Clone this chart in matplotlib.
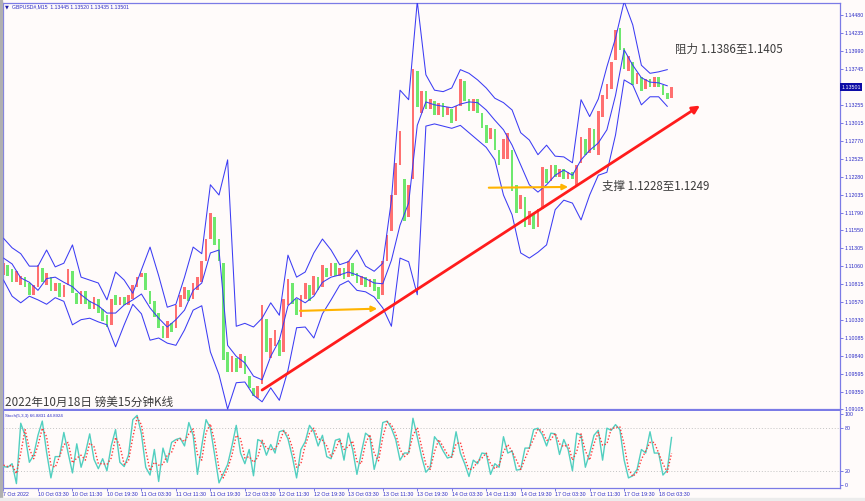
import numpy as np
import matplotlib.pyplot as plt
from matplotlib.patches import Rectangle

plt.rcParams['font.family'] = ['Noto Sans CJK SC', 'DejaVu Sans']

# GBPUSD M15, sampled every 4th bar (one slice per hour)
opens = [1.1094, 1.1108, 1.1102, 1.1085, 1.1080, 1.1091, 1.1083, 1.1066, 1.1078, 1.1104,
         1.1080, 1.1091, 1.1072, 1.1083, 1.1064, 1.1080, 1.1099, 1.1069, 1.1055, 1.1072,
         1.1058, 1.1047, 1.1061, 1.1047, 1.1039, 1.1026, 1.1066, 1.1053, 1.1064, 1.1053,
         1.1061, 1.1077, 1.1091, 1.1096, 1.1072, 1.1058, 1.1042, 1.1025, 1.1008, 1.1028,
         1.1022, 1.1050, 1.1061, 1.1073, 1.1061, 1.1073, 1.1085, 1.1113, 1.1143, 1.1173,
         1.1143, 1.1110, 1.0989, 1.0962, 1.0981, 1.0967, 1.0984, 1.0956, 1.0940, 1.0926,
         1.0945, 1.1034, 1.0981, 1.0997, 1.1005, 1.0989, 1.1053, 1.1083, 1.1061, 1.1036,
         1.1061, 1.1080, 1.1066, 1.1091, 1.1077, 1.1104, 1.1093, 1.1110, 1.1093, 1.1104,
         1.1091, 1.1110, 1.1096, 1.1080, 1.1091, 1.1077, 1.1088, 1.1077, 1.1066, 1.1113,
         1.1154, 1.1203, 1.1244, 1.1225, 1.1173, 1.1225, 1.1372, 1.1315, 1.1345, 1.1320,
         1.1331, 1.1312, 1.1328, 1.1312, 1.1320, 1.1304, 1.1325, 1.1358, 1.1334, 1.1317,
         1.1334, 1.1315, 1.1298, 1.1279, 1.1293, 1.1265, 1.1252, 1.1252, 1.1265, 1.1216,
         1.1184, 1.1200, 1.1162, 1.1178, 1.1159, 1.1184, 1.1238, 1.1222, 1.1244, 1.1227,
         1.1238, 1.1225, 1.1235, 1.1216, 1.1246, 1.1279, 1.1260, 1.1293, 1.1257, 1.1309,
         1.1334, 1.1347, 1.1387, 1.1431, 1.1404, 1.1372, 1.1385, 1.1355, 1.1364, 1.1347,
         1.1361, 1.1350, 1.1364, 1.1353, 1.1342, 1.1336]
closes = [1.1110, 1.1093, 1.1085, 1.1099, 1.1093, 1.1077, 1.1066, 1.1080, 1.1107, 1.1085,
          1.1096, 1.1072, 1.1083, 1.1064, 1.1080, 1.1102, 1.1069, 1.1055, 1.1072, 1.1055,
          1.1047, 1.1064, 1.1042, 1.1031, 1.1023, 1.1061, 1.1053, 1.1064, 1.1053, 1.1066,
          1.1080, 1.1091, 1.1096, 1.1073, 1.1055, 1.1036, 1.1022, 1.1008, 1.1031, 1.1016,
          1.1053, 1.1066, 1.1077, 1.1058, 1.1083, 1.1091, 1.1113, 1.1143, 1.1178, 1.1135,
          1.1113, 1.0978, 1.0962, 1.0984, 1.0962, 1.0986, 1.0959, 1.0940, 1.0929, 1.0942,
          1.1053, 1.0989, 1.1008, 1.1019, 1.0984, 1.1061, 1.1088, 1.1055, 1.1039, 1.1066,
          1.1083, 1.1058, 1.1093, 1.1073, 1.1107, 1.1091, 1.1110, 1.1093, 1.1104, 1.1088,
          1.1113, 1.1093, 1.1083, 1.1093, 1.1077, 1.1088, 1.1072, 1.1061, 1.1113, 1.1148,
          1.1203, 1.1246, 1.1290, 1.1167, 1.1216, 1.1375, 1.1323, 1.1345, 1.1320, 1.1334,
          1.1312, 1.1328, 1.1309, 1.1323, 1.1301, 1.1325, 1.1361, 1.1331, 1.1317, 1.1334,
          1.1315, 1.1295, 1.1274, 1.1295, 1.1265, 1.1244, 1.1279, 1.1287, 1.1208, 1.1178,
          1.1203, 1.1159, 1.1181, 1.1156, 1.1184, 1.1241, 1.1219, 1.1244, 1.1227, 1.1238,
          1.1225, 1.1235, 1.1225, 1.1244, 1.1282, 1.1257, 1.1295, 1.1265, 1.1317, 1.1339,
          1.1355, 1.1385, 1.1428, 1.1401, 1.1375, 1.1393, 1.1353, 1.1369, 1.1345, 1.1361,
          1.1350, 1.1364, 1.1350, 1.1339, 1.1334, 1.13501]

# bollinger bands, every 2nd slice
upper_band = [1.1144, 1.1131, 1.1123, 1.1106, 1.1106, 1.1128, 1.1105, 1.1110, 1.1135, 1.1091,
              1.1087, 1.1083, 1.1060, 1.1098, 1.1087, 1.1069, 1.1101, 1.1132, 1.1093, 1.1050,
              1.1054, 1.1091, 1.1132, 1.1123, 1.1217, 1.1203, 1.1251, 1.1024, 1.1028, 1.1023,
              1.1035, 1.1056, 1.1039, 1.1121, 1.1091, 1.1098, 1.1124, 1.1143, 1.1128, 1.1108,
              1.1112, 1.1128, 1.1106, 1.1099, 1.1110, 1.1196, 1.1346, 1.1333, 1.1467, 1.1367,
              1.1346, 1.1344, 1.1349, 1.1374, 1.1369, 1.1360, 1.1349, 1.1335, 1.1329, 1.1319,
              1.1288, 1.1278, 1.1258, 1.1271, 1.1256, 1.1255, 1.1247, 1.1333, 1.1310, 1.1334,
              1.1378, 1.1417, 1.1467, 1.1435, 1.1380, 1.1369, 1.1371, 1.1374]
mid_band = [1.1117, 1.1109, 1.1090, 1.1084, 1.1073, 1.1089, 1.1091, 1.1084, 1.1078, 1.1067,
            1.1058, 1.1052, 1.1042, 1.1042, 1.1053, 1.1060, 1.1068, 1.1049, 1.1035, 1.1023,
            1.1033, 1.1046, 1.1073, 1.1083, 1.1124, 1.1128, 1.0998, 1.0983, 1.0974, 1.0956,
            1.0951, 1.0983, 1.1005, 1.1052, 1.1063, 1.1056, 1.1065, 1.1084, 1.1091, 1.1094,
            1.1098, 1.1094, 1.1089, 1.1083, 1.1082, 1.1114, 1.1162, 1.1192, 1.1298, 1.1330,
            1.1326, 1.1324, 1.1322, 1.1327, 1.1330, 1.1329, 1.1319, 1.1305, 1.1292, 1.1271,
            1.1244, 1.1217, 1.1207, 1.1217, 1.1230, 1.1237, 1.1230, 1.1251, 1.1264, 1.1274,
            1.1292, 1.1339, 1.1401, 1.1380, 1.1363, 1.1357, 1.1356, 1.1352]
lower_band = [1.1087, 1.1065, 1.1056, 1.1065, 1.1060, 1.1054, 1.1063, 1.1058, 1.1026, 1.1033,
              1.1035, 1.1030, 1.1026, 1.0996, 1.1026, 1.1054, 1.1041, 1.1005, 1.1008, 1.1001,
              1.0998, 1.1019, 1.1046, 1.1052, 1.0989, 1.0958, 1.0911, 1.0947, 1.0948, 1.0930,
              1.0921, 1.0940, 1.0923, 1.0964, 1.1022, 1.1023, 1.1008, 1.1041, 1.1060, 1.1080,
              1.1086, 1.1073, 1.1071, 1.1064, 1.1049, 1.1024, 1.1117, 1.1112, 1.1067, 1.1297,
              1.1300, 1.1297, 1.1294, 1.1298, 1.1288, 1.1278, 1.1268, 1.1251, 1.1203, 1.1176,
              1.1124, 1.1117, 1.1125, 1.1135, 1.1183, 1.1196, 1.1192, 1.1169, 1.1203, 1.1230,
              1.1234, 1.1285, 1.1360, 1.1353, 1.1326, 1.1337, 1.1337, 1.1324]

stoch_k = [26, 25, 30, 2, 87, 70, 32, 42, 70, 90, 46, 10, 40, 40, 74, 45, 17, 58, 25, 45,
           72, 36, 23, 37, 20, 55, 78, 32, 26, 42, 92, 98, 72, 25, 14, 50, 5, 52, 32, 60,
           64, 66, 55, 88, 70, 15, 55, 92, 80, 42, 3, 16, 29, 55, 84, 45, 30, 50, 13, 64,
           61, 42, 57, 45, 75, 77, 65, 40, 10, 50, 61, 84, 75, 55, 70, 40, 37, 63, 65, 35,
           73, 50, 15, 45, 73, 68, 22, 45, 88, 90, 80, 64, 35, 45, 45, 94, 68, 40, 18, 25,
           68, 60, 48, 38, 40, 75, 45, 30, 12, 35, 30, 45, 44, 15, 30, 25, 68, 45, 48, 21,
           22, 52, 52, 78, 80, 71, 55, 73, 72, 43, 64, 50, 20, 73, 70, 25, 45, 70, 77, 35,
           80, 77, 85, 78, 35, 10, 13, 22, 50, 45, 75, 45, 45, 14, 21, 66.8831]
stoch_d = [28, 26, 28, 16, 45, 78, 51, 37, 56, 80, 68, 28, 25, 40, 57, 60, 31, 38, 42, 35,
           59, 54, 30, 30, 29, 38, 67, 55, 29, 34, 67, 95, 85, 49, 20, 32, 28, 29, 42, 46,
           62, 65, 61, 72, 79, 43, 35, 74, 86, 61, 23, 10, 23, 42, 70, 65, 38, 40, 32, 39,
           63, 52, 50, 51, 60, 76, 71, 53, 25, 30, 56, 73, 80, 65, 63, 55, 39, 50, 64, 50,
           54, 62, 33, 30, 59, 71, 45, 34, 67, 89, 85, 72, 50, 40, 45, 70, 81, 54, 29, 22,
           47, 64, 54, 43, 39, 58, 60, 38, 21, 24, 33, 38, 45, 30, 23, 28, 47, 57, 47, 35,
           22, 37, 52, 65, 79, 76, 63, 64, 73, 58, 54, 57, 35, 47, 72, 48, 35, 58, 74, 56,
           58, 79, 81, 82, 57, 23, 12, 18, 36, 48, 60, 60, 45, 30, 18, 44.8924]

price_ticks = [1.14480, 1.14235, 1.13990, 1.13745, 1.13255, 1.13015, 1.12770, 1.12525,
               1.12280, 1.12035, 1.11790, 1.11550, 1.11305, 1.11060, 1.10815, 1.10570,
               1.10330, 1.10085, 1.09840, 1.09595, 1.09350, 1.09105]
time_labels = ['7 Oct 2022', '10 Oct 03:30', '10 Oct 11:30', '10 Oct 19:30', '11 Oct 03:30',
               '11 Oct 11:30', '11 Oct 19:30', '12 Oct 03:30', '12 Oct 11:30', '12 Oct 19:30',
               '13 Oct 03:30', '13 Oct 11:30', '13 Oct 19:30', '14 Oct 03:30', '14 Oct 11:30',
               '14 Oct 19:30', '17 Oct 03:30', '17 Oct 11:30', '17 Oct 19:30', '18 Oct 03:30']
time_ticks = list(range(0, 8 * len(time_labels), 8))

# analyst drawings (slice index, price)
trend_from = (60.0, 1.0937)
trend_to = (161.6, 1.1325)
support_arrows = [((68.8, 1.1045), (86.7, 1.1048)),
                  ((112.6, 1.1213), (131.0, 1.1214))]
notes = [(155.8, 1.1402, '阻力 1.1386至1.1405'),
         (138.9, 1.1215, '支撑 1.1228至1.1249')]

BG = '#fffbfa'
FRAME = '#7b7be6'
AXTXT = '#2b2bc6'
SMALL = 3.8
W, H = 865, 501


def box(l, t, r, b):
    return [l / W, 1 - b / H, (r - l) / W, (b - t) / H]


fig = plt.figure(figsize=(W / 100, H / 100), dpi=100)
fig.patch.set_facecolor(BG)
fig.patches.append(Rectangle((0, 0), 2 / W, 1, transform=fig.transFigure, color='#b0b0b0', zorder=0))
fig.patches.append(Rectangle((0, 0), 1, 3 / H, transform=fig.transFigure, color='#ececec', zorder=0))

ax = fig.add_axes(box(3, 3, 840, 410))
ax_st = fig.add_axes(box(3, 411, 840, 488), sharex=ax)
for a in (ax, ax_st):
    a.set_facecolor(BG)
    for s in a.spines.values():
        s.set_color(FRAME)
        s.set_linewidth(0.9)
ax.spines['bottom'].set_linewidth(1.6)
ax_st.spines['top'].set_visible(False)

idx = np.arange(len(opens))
o = np.array(opens)
c = np.array(closes)
cols = np.where(c >= o, '#ff7070', '#6ee86e')
ax.bar(idx, c - o, bottom=o, width=0.62, color=cols, linewidth=0, zorder=2)

bidx = np.arange(0, len(opens), 2)[:len(upper_band)]
for band in (upper_band, mid_band, lower_band):
    ax.plot(bidx, band, color='#3c3cf4', lw=0.75, zorder=3)

ax.annotate('', xy=trend_to, xytext=trend_from,
            arrowprops=dict(arrowstyle='-|>', color='#ff1c1c', lw=2.0,
                            mutation_scale=11, shrinkA=0, shrinkB=0), zorder=5)
for start, end in support_arrows:
    ax.annotate('', xy=end, xytext=start,
                arrowprops=dict(arrowstyle='-|>', color='#ffb300', lw=1.5,
                                mutation_scale=8, shrinkA=0, shrinkB=0), zorder=5)
for x, y, t in notes:
    ax.text(x, y, t, fontsize=8.3, color='#3c3c3c', ha='left', va='center', zorder=6)

ax.set_xlim(-0.116, 194.08)
ax.set_ylim(1.09098, 1.14649)
ax.tick_params(axis='x', bottom=False, labelbottom=False)
ax.yaxis.tick_right()
ax.set_yticks(price_ticks)
ax.set_yticklabels([f'{p:.5f}' for p in price_ticks], fontfamily='Liberation Sans')
ax.tick_params(axis='y', direction='out', length=2.2, width=0.7, color=FRAME,
               pad=1.0, labelsize=SMALL, labelcolor=AXTXT)
ax.annotate(f'{closes[-1]:.5f}', xy=(1, closes[-1]), xycoords=('axes fraction', 'data'),
            xytext=(1.0, 0), textcoords='offset points', ha='left', va='center',
            fontsize=SMALL, color='white', fontfamily='Liberation Sans', annotation_clip=False,
            bbox=dict(boxstyle='square,pad=0.25', fc='#0c0ca6', ec='none'))

ax_st.plot(idx, stoch_k, color='#52cfc0', lw=1.0, zorder=3)
ax_st.plot(idx, stoch_d, color='#ff3b3b', lw=1.0, ls=(0, (1, 1.4)), zorder=4)
for lvl in (20, 80):
    ax_st.axhline(lvl, color='#c4c4c4', lw=0.7, ls=(0, (1, 2)), zorder=1)
ax_st.set_ylim(-4.2, 104.2)
ax_st.yaxis.tick_right()
ax_st.set_yticks([0, 20, 80, 100])
ax_st.set_yticklabels(['0', '20', '80', '100'], fontfamily='Liberation Sans')
ax_st.tick_params(axis='y', direction='out', length=2.2, width=0.7, color=FRAME,
                  pad=1.0, labelsize=SMALL, labelcolor=AXTXT)
ax_st.set_xticks(time_ticks)
ax_st.set_xticklabels(time_labels, fontfamily='Liberation Sans', ha='left')
ax_st.tick_params(axis='x', direction='out', length=2.2, width=0.7, color=FRAME,
                  pad=1.0, labelsize=SMALL, labelcolor=AXTXT)

fig.text(5 / W, 1 - 6.8 / H, '▼', fontsize=3.6, color='#1c1ca8', va='center',
         fontfamily=['DejaVu Sans'])
fig.text(12 / W, 1 - 6.8 / H, 'GBPUSD#,M15  1.13445 1.13520 1.13435 1.13501',
         fontsize=3.7, color=AXTXT, va='center', fontfamily=['Liberation Sans', 'DejaVu Sans'])
fig.text(5 / W, 1 - 416 / H, 'Stoch(5,3,3) 66.8831 44.8924', fontsize=3.2, color=AXTXT,
         va='center', fontfamily=['Liberation Sans', 'DejaVu Sans'])
fig.text(5 / W, 1 - 402 / H, '2022年10月18日 镑美15分钟K线', fontsize=8.4, color='#3c3c3c',
         va='center', ha='left')

fig.savefig('out.png', dpi=100, facecolor=fig.get_facecolor())
